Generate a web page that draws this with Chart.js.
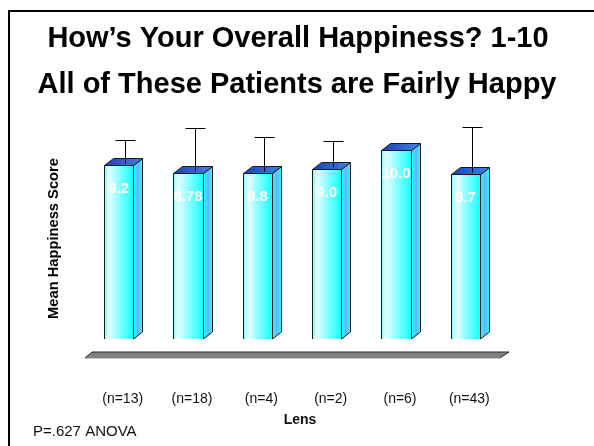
<!DOCTYPE html>
<html>
<head>
<meta charset="utf-8">
<script src="https://cdn.jsdelivr.net/npm/chart.js@4"></script>
<style>
  body { margin: 0; background: #fff; }
  canvas { display: block; }
</style>
</head>
<body>
<canvas id="happyChart" width="594" height="446"></canvas>
<script>
// data
const categories = ['(n=13)', '(n=18)', '(n=4)', '(n=2)', '(n=6)', '(n=43)'];
const means = [9.2, 8.78, 8.8, 9.0, 10.0, 8.7];
const errors = [1.3, 2.4, 1.9, 1.45, 0, 2.5];
const valueLabels = ['9.2', '8.78', '8.8', '9.0', '10.0', '8.7'];
const titleLines = ['How\u2019s Your Overall Happiness? 1-10', 'All of These Patients are Fairly Happy'];

const FONT = '"Liberation Sans", Arial, sans-serif';
const DX = 9, DY = 7; // 3d depth

// slide frame, titles and axis texts
const slideText = {
    id: 'slideText',
    beforeDraw(chart) {
        const c = chart.ctx;
        c.save();
        c.fillStyle = '#fff';
        c.fillRect(0, 0, chart.width, chart.height);
        c.strokeStyle = '#000';
        c.lineWidth = 2;
        c.beginPath();
        c.moveTo(9, chart.height);
        c.lineTo(9, 11);
        c.lineTo(chart.width, 11);
        c.stroke();

        c.fillStyle = '#000';
        c.textAlign = 'center';
        c.textBaseline = 'middle';
        c.font = 'bold 29px ' + FONT;
        c.fillText(titleLines[0], 298, 39);
        c.fillText(titleLines[1], 297, 85);
        c.restore();
    },
    afterDraw(chart) {
        const c = chart.ctx;
        const xs = chart.scales.x;
        const area = chart.chartArea;
        c.save();
        c.fillStyle = '#111';
        c.textAlign = 'center';
        c.textBaseline = 'middle';
        c.font = '14px ' + FONT;
        categories.forEach((lab, i) => {
            c.fillText(lab, xs.getPixelForValue(i) + 4, 399);
        });
        c.font = 'bold 14px ' + FONT;
        c.fillText('Lens', 300, 420);

        c.textAlign = 'left';
        c.font = '15px ' + FONT;
        c.fillText('P=.627 ANOVA', 33, 432);

        c.translate(54, (area.top + area.bottom) / 2 + 13);
        c.rotate(-Math.PI / 2);
        c.textAlign = 'center';
        c.font = 'bold 14.7px ' + FONT;
        c.fillStyle = '#000';
        c.fillText('Mean Happiness Score', 0, 0);
        c.restore();
    }
};

// floor under the bars
const floor3d = {
    id: 'floor3d',
    beforeDatasetsDraw(chart) {
        const c = chart.ctx;
        const a = chart.chartArea;
        const top = a.bottom + 13, bot = a.bottom + 19;
        c.save();
        c.fillStyle = '#808080';
        c.beginPath();
        c.moveTo(a.left + 8, top);
        c.lineTo(a.right + 9, top);
        c.lineTo(a.right, bot);
        c.lineTo(a.left + 1, bot);
        c.closePath();
        c.fill();
        c.strokeStyle = '#2a2a2a';
        c.lineWidth = 1;
        c.beginPath();
        c.moveTo(a.left + 1, bot);
        c.lineTo(a.left + 8, top);
        c.lineTo(a.right + 9, top);
        c.lineTo(a.right, bot);
        c.stroke();
        c.strokeStyle = '#c8c8c8';
        c.beginPath();
        c.moveTo(a.left + 1, bot + 0.5);
        c.lineTo(a.right, bot + 0.5);
        c.stroke();
        c.restore();
    }
};

// 3d bars, error bars and value labels
const bars3d = {
    id: 'bars3d',
    afterDatasetsDraw(chart) {
        const c = chart.ctx;
        const ys = chart.scales.y;
        const meta = chart.getDatasetMeta(0);
        c.save();
        meta.data.forEach((bar, i) => {
            const w = bar.width;
            const l = Math.round(bar.x - w / 2) + 0.5;
            const r = Math.round(bar.x + w / 2) + 0.5;
            const t = Math.round(bar.y) + 0.5;
            const b = bar.base;

            // side face
            let g = c.createLinearGradient(r, 0, r + DX, 0);
            g.addColorStop(0, '#20ffff');
            g.addColorStop(0.5, '#6ab4ff');
            g.addColorStop(1, '#20ffff');
            c.fillStyle = g;
            c.beginPath();
            c.moveTo(r, t);
            c.lineTo(r + DX, t - DY);
            c.lineTo(r + DX, b - DY);
            c.lineTo(r, b);
            c.closePath();
            c.fill();
            c.strokeStyle = '#1a1a1a';
            c.lineWidth = 1;
            c.stroke();

            // top face
            g = c.createLinearGradient(l, t, r + DX, t - DY);
            g.addColorStop(0, '#1c3fb0');
            g.addColorStop(1, '#3f86e6');
            c.fillStyle = g;
            c.beginPath();
            c.moveTo(l, t);
            c.lineTo(l + DX, t - DY);
            c.lineTo(r + DX, t - DY);
            c.lineTo(r, t);
            c.closePath();
            c.fill();
            c.stroke();

            // front face
            g = c.createLinearGradient(l, 0, r, 0);
            g.addColorStop(0, '#7affff');
            g.addColorStop(0.15, '#e6ffff');
            g.addColorStop(1, '#10ffff');
            c.fillStyle = g;
            c.fillRect(l, t, r - l, b - t);
            c.beginPath();
            c.moveTo(l, b);
            c.lineTo(l, t);
            c.lineTo(r, t);
            c.lineTo(r, b);
            c.stroke();

            // error bar
            if (errors[i] > 0) {
                const ex = Math.round(bar.x + DX / 2 + 2) + 0.5;
                const ey = Math.round(ys.getPixelForValue(means[i] + errors[i])) + 0.5;
                c.strokeStyle = '#000';
                c.beginPath();
                c.moveTo(ex, t - 2);
                c.lineTo(ex, ey);
                c.moveTo(ex - 10, ey);
                c.lineTo(ex + 10, ey);
                c.stroke();
            }

            // value label
            c.fillStyle = '#fff';
            c.font = 'bold 15px ' + FONT;
            c.textAlign = 'center';
            c.textBaseline = 'middle';
            c.fillText(valueLabels[i], bar.x, t + 23);
        });
        c.restore();
    }
};

const ctx = document.getElementById('happyChart').getContext('2d');
const happyChart = new Chart(ctx, {
    type: 'bar',
    data: {
        labels: categories,
        datasets: [{
            data: means,
            backgroundColor: 'rgba(0,0,0,0)',
            borderWidth: 0,
            categoryPercentage: 1,
            barPercentage: 0.42
        }]
    },
    options: {
        responsive: false,
        animation: false,
        devicePixelRatio: 1,
        layout: { padding: { left: 84, right: 94, top: 112, bottom: 107 } },
        scales: {
            x: { display: false },
            y: { display: false, min: 0, max: 12 }
        },
        plugins: {
            legend: { display: false },
            tooltip: { enabled: false }
        }
    },
    plugins: [slideText, floor3d, bars3d]
});
</script>
</body>
</html>
